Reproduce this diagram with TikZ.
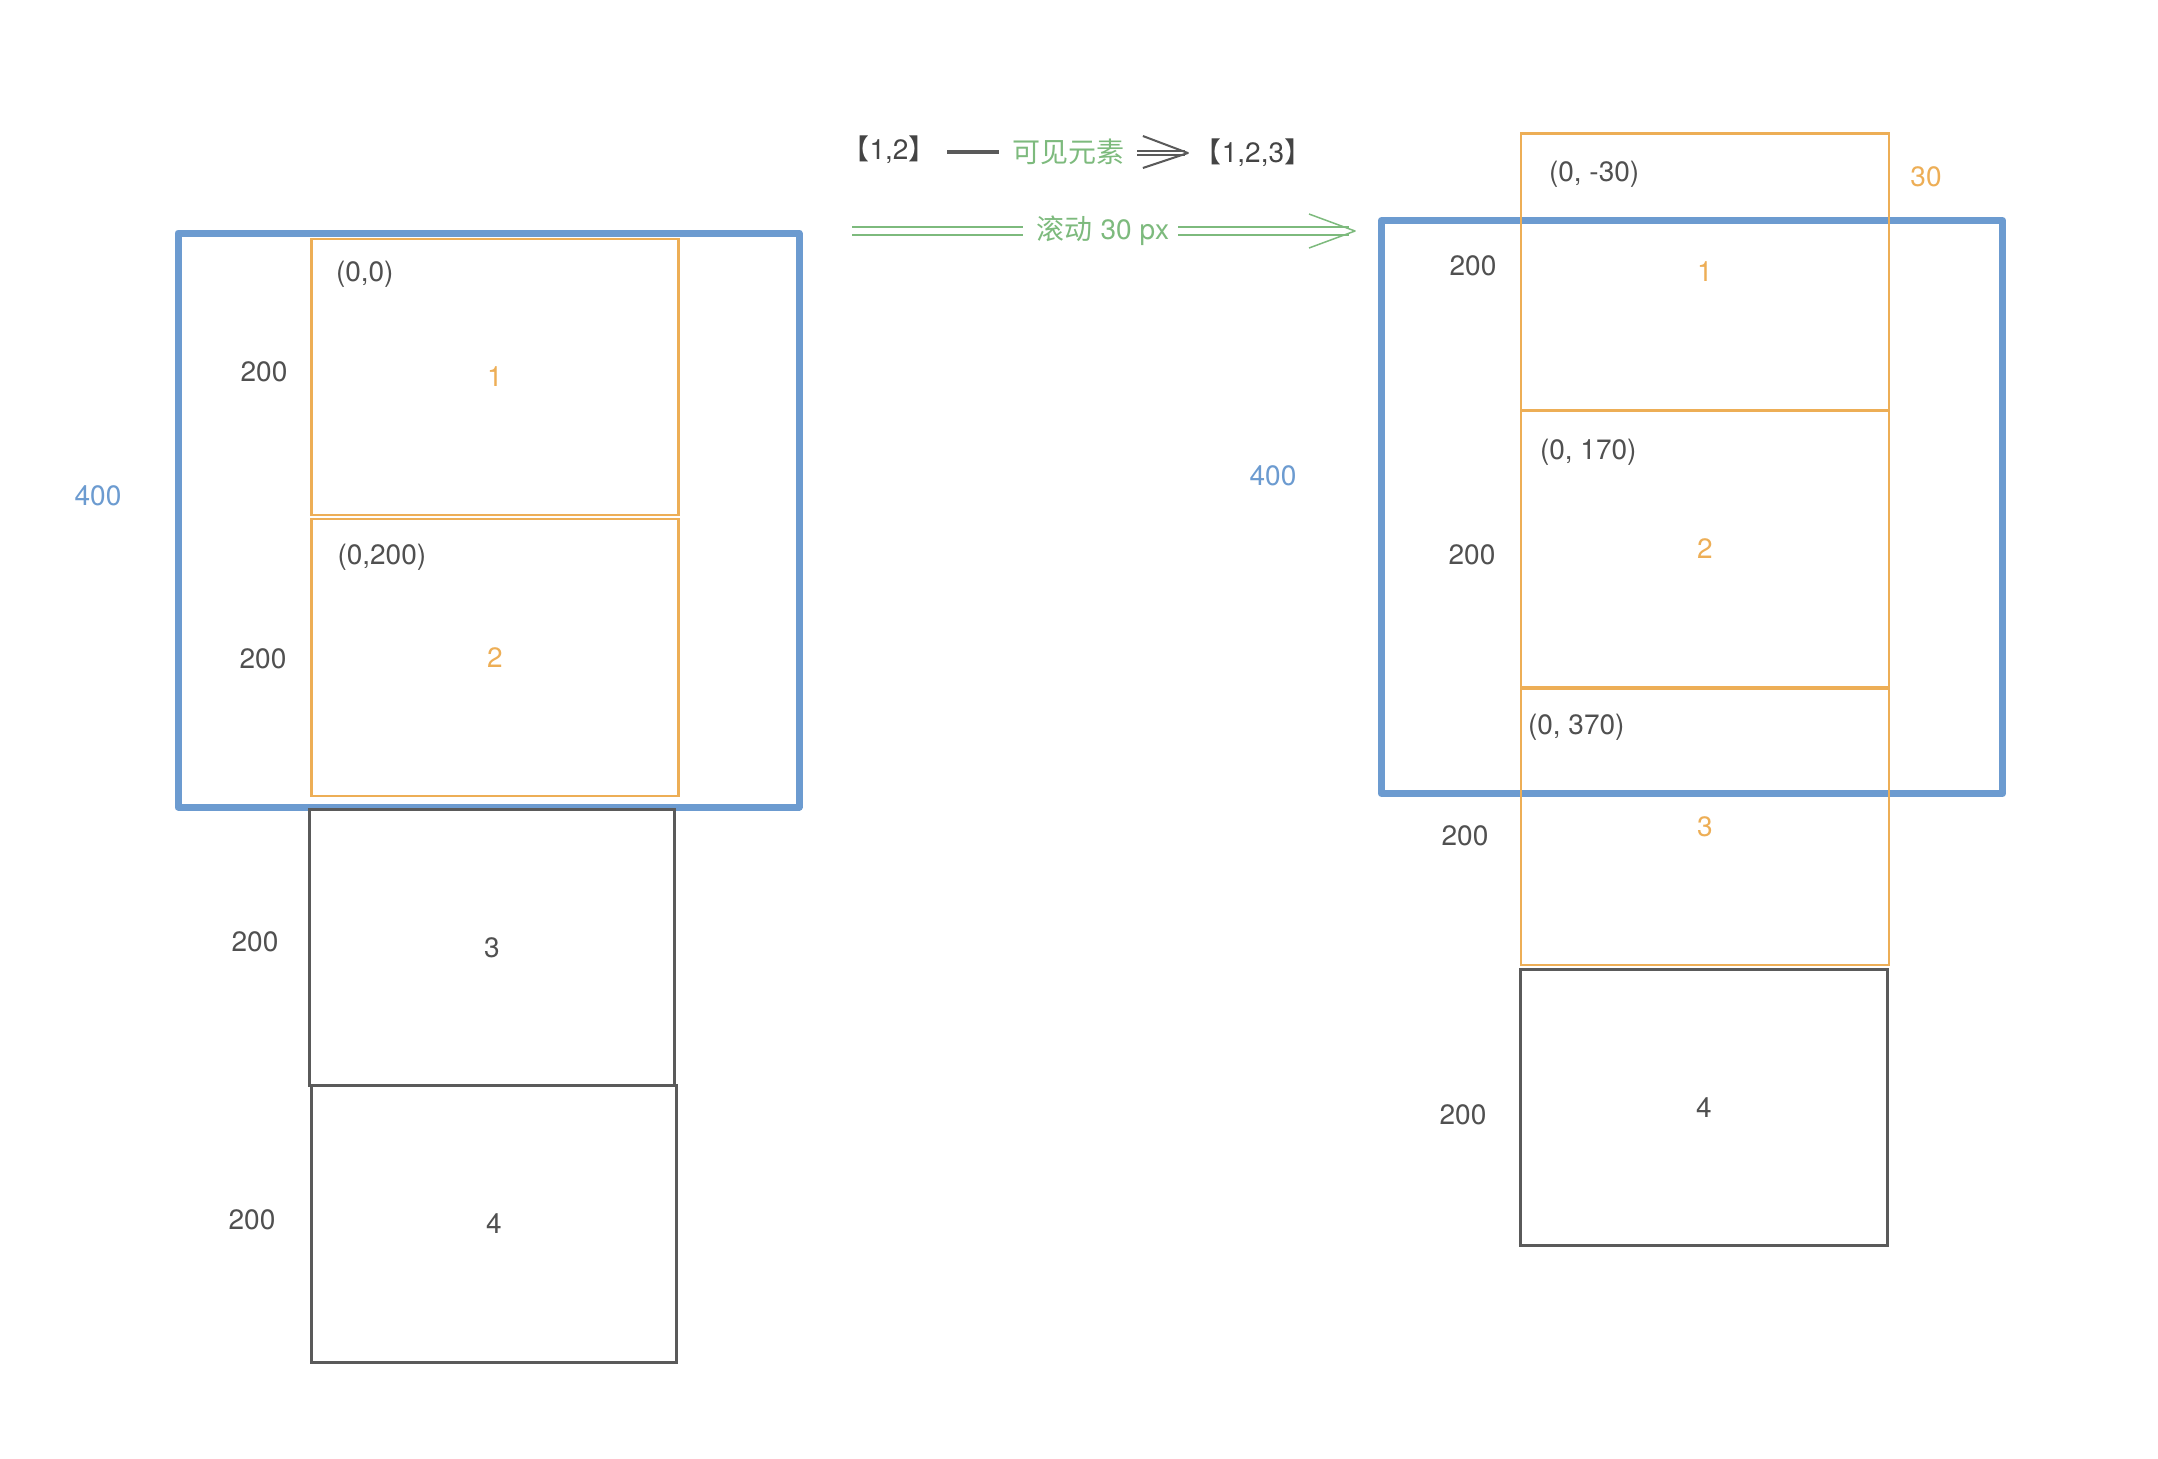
\documentclass[tikz,border=0pt]{standalone}
\usepackage{fontspec}
\setmainfont{TeX Gyre Heros}
\newfontfamily\cjk{Noto Sans CJK SC}
\newfontfamily\cjkhalf[RawFeature=+halt]{Noto Sans CJK SC}
\usetikzlibrary{calc}
\definecolor{vblue}{HTML}{6C9BD0}
\definecolor{vorange}{HTML}{EDAE56}
\definecolor{vgray}{HTML}{5A5A5A}
\definecolor{vtext}{HTML}{505050}
\definecolor{vdark}{HTML}{444444}
\definecolor{vgreen}{HTML}{7DBA7D}
\begin{document}
\begin{tikzpicture}[x=0.5pt,y=-0.5pt,
  every node/.style={font=\fontsize{14}{16}\selectfont, inner sep=0pt, outer sep=0pt},
  viewport/.style={draw=vblue, line width=3.5pt, line join=round},
  obox/.style={draw=vorange, line width=1.4pt, text=vorange},
  gbox/.style={draw=vgray, line width=1.4pt, text=vtext},
  dim/.style={text=vtext},
  bdim/.style={text=vblue},
  coord/.style={text=vtext, anchor=west},
  gline/.style={vgreen, line width=0.75pt},
  gdouble/.style={draw=vgreen, double=white, line width=0.75pt, double distance=3.25pt},
  kdouble/.style={draw=vgray, double=white, line width=0.7pt, double distance=1.2pt}]
\useasboundingbox (0,0) rectangle (2158,1458);

% ---------- left: before scrolling ----------
\node[viewport, minimum width=310.5pt, minimum height=287pt] (lview) at (488.5,520) {};
\node[obox, minimum width=183.5pt, minimum height=138pt] (l1) at (495,377) {1};
\node[obox, minimum width=183.5pt, minimum height=138.5pt] (l2) at (495,657.5) {2};
\node[gbox, minimum width=182.5pt, minimum height=138pt] (l3) at (492,947.6) {3};
\node[gbox, minimum width=182.75pt, minimum height=138.2pt] (l4) at (494,1224) {4};

\node[coord] (lc1) at (336,274) {(0,0)};
\node[coord] (lc2) at (337.5,557) {(0,200)};
\node[dim] (ld1) at (264,372) {200};
\node[dim] (ld2) at (263,659) {200};
\node[dim] (ld3) at (255,942) {200};
\node[dim] (ld4) at (252,1220) {200};
\node[bdim] (lh) at (98,496) {400};

% ---------- right: after scrolling ----------
\node[viewport, minimum width=310.75pt, minimum height=286.35pt] (rview) at (1692,507) {};
\node[obox, minimum width=184pt, minimum height=138.25pt] (r1) at (1705,272) {1};
\node[obox, minimum width=184pt, minimum height=138.5pt] (r2) at (1705,548.5) {2};
\node[obox, minimum width=184pt, minimum height=138.25pt] (r3) at (1705,826.7) {3};
\node[gbox, minimum width=183.75pt, minimum height=138pt] (r4) at (1704,1107.7) {4};

\node[coord] (rc1) at (1549,174) {(0, -30)};
\node[coord] (rc2) at (1540,452) {(0, 170)};
\node[coord] (rc3) at (1528,727) {(0, 370)};
\node[text=vorange] (roff) at (1926,177) {30};
\node[dim] (rd1) at (1473,266) {200};
\node[dim] (rd2) at (1472,555) {200};
\node[dim] (rd3) at (1465,836) {200};
\node[dim] (rd4) at (1463,1115) {200};
\node[bdim] (rh) at (1273,476) {400};

% ---------- top: visible elements ----------
\node[text=vdark] (v12) at (889,150) {{\cjkhalf 【}1,2{\cjkhalf 】}};
\node[text=vgreen] (vlab) at (1068,152) {\cjk 可见元素};
\node[text=vdark] (v123) at (1253,153) {{\cjkhalf 【}1,2,3{\cjkhalf 】}};
\draw[vgray, line width=1.6pt, shorten <=12.5pt, shorten >=6.5pt] (v12.east |- vlab.center) -- (vlab.west);
\coordinate (kt) at ($(v123.west)+(-20,0)$);
\draw[kdouble, shorten <=6.5pt, shorten >=1.5pt] (vlab.east |- kt) -- (kt);
\draw[vgray, line width=1pt, line join=round] ($(kt)+(-45,-17)$) -- (kt) -- ($(kt)+(-45,15)$);

% ---------- scroll arrow ----------
\coordinate (gs) at (852,231);
\coordinate (gt) at (1355,231);
\node[text=vgreen] (glab) at (1103,231) {{\cjk 滚动} 30 px};
\draw[gdouble, shorten >=7pt] (gs) -- (glab.west |- gs);
\draw[gdouble, shorten <=4.5pt, shorten >=3pt] (glab.east |- gt) -- (gt);
\draw[gline, line join=round] ($(gt)+(-46,-17)$) -- (gt) -- ($(gt)+(-46,17)$);
\end{tikzpicture}
\end{document}
